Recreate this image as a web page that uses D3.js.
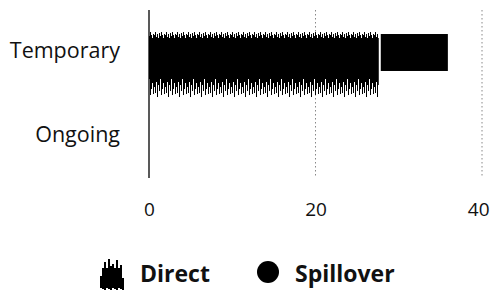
<!DOCTYPE html>
<html>
<head>
<meta charset="utf-8">
<script src="https://cdn.jsdelivr.net/npm/d3@7"></script>
<style>
body { margin: 0; background: #fff; }
svg text { font-family: "Open Sans", sans-serif; fill: #111; }
.cat text { font-size: 21.5px; }
.legend text { font-size: 23px; font-weight: 700; }
</style>
</head>
<body>
<svg id="chart" width="490" height="301"></svg>
<script>
// data
var categories = ["Temporary", "Ongoing"];
var direct = [27.6, 0];
var spillover = [8.3, 0];
var xTicks = [0, 20, 40];
var seriesNames = ["Direct", "Spillover"];

var svg = d3.select("#chart");

var x = d3.scaleLinear().domain([0, 40]).range([149, 482]);
var y = d3.scaleBand().domain(categories).range([10, 178])
  .paddingInner(0.548).paddingOuter(0.274);

// fuzzy texture for the Direct series (scanned look)
var spikesTop = [3, 0, 5, 2, 6, 1, 4, 0, 3, 6, 2];
var spikesBot = [14, 20, 9, 24, 12, 18, 6, 22, 16, 10, 21];
var defs = svg.append("defs");
var pat = defs.append("pattern").attr("id", "fuzz")
  .attr("patternUnits", "userSpaceOnUse")
  .attr("x", 0).attr("y", y("Temporary") - 1)
  .attr("width", 11).attr("height", 66);
pat.append("rect").attr("x", 0).attr("y", 6).attr("width", 11).attr("height", 36).attr("fill", "#000");
spikesTop.forEach(function(d, i) {
  pat.append("line").attr("x1", i + 0.5).attr("x2", i + 0.5)
    .attr("y1", d).attr("y2", 7).attr("stroke", "#000").attr("stroke-width", 1);
});
spikesBot.forEach(function(d, i) {
  pat.append("line").attr("x1", i + 0.5).attr("x2", i + 0.5)
    .attr("y1", 41).attr("y2", 41 + d).attr("stroke", "#000").attr("stroke-width", 1);
});

// grid lines
svg.append("g").selectAll("line").data(xTicks).join("line")
  .attr("x1", d => x(d)).attr("x2", d => x(d))
  .attr("y1", 10).attr("y2", 178)
  .attr("stroke", d => d === 0 ? "#222" : "#888")
  .attr("stroke-width", d => d === 0 ? 1.5 : 1)
  .attr("stroke-dasharray", d => d === 0 ? null : "1.5,2.5");

// bars
var rows = categories.map(function(c, i) {
  return { cat: c, direct: direct[i], spill: spillover[i] };
});
svg.append("g").selectAll("rect").data(rows.filter(d => d.direct > 0)).join("rect")
  .attr("x", d => x(0)).attr("y", d => y(d.cat) - 1)
  .attr("width", d => x(d.direct) - x(0))
  .attr("height", 66)
  .attr("fill", "url(#fuzz)");
svg.append("g").selectAll("rect").data(rows.filter(d => d.spill > 0)).join("rect")
  .attr("x", d => x(d.direct) + 2).attr("y", d => y(d.cat) + 1)
  .attr("width", d => x(d.direct + d.spill) - x(d.direct) - 2)
  .attr("height", y.bandwidth() - 1)
  .attr("fill", "#000");

// category labels
svg.append("g").attr("class", "cat").selectAll("text").data(categories).join("text")
  .attr("x", 120).attr("y", d => y(d) + y.bandwidth() / 2 + 6)
  .attr("text-anchor", "end")
  .text(d => d);

// x axis labels
var xAxis = d3.axisBottom(x).tickValues(xTicks).tickSize(0).tickPadding(0);
var ax = svg.append("g").attr("class", "xax").attr("transform", "translate(0,199)").call(xAxis);
ax.select(".domain").remove();
ax.selectAll("text").attr("dy", "0.9em").style("font-family", "'Open Sans', sans-serif")
  .style("font-size", "19px").style("fill", "#111");
// last label sits at the page edge, keep it inside
ax.selectAll("text").filter(d => d === 40).attr("text-anchor", "end").attr("x", 7);

// legend
var lg = svg.append("g").attr("class", "legend");
var iconLens = [14, 22, 28, 18, 31, 24, 26, 16, 30, 20, 25, 12];
lg.selectAll("line").data(iconLens).join("line")
  .attr("x1", (d, i) => 101 + i * 2).attr("x2", (d, i) => 101 + i * 2)
  .attr("y1", d => 290 - d).attr("y2", (d, i) => 288 + (i % 3))
  .attr("stroke", "#000").attr("stroke-width", 2);
lg.append("rect").attr("x", 102).attr("y", 268).attr("width", 20).attr("height", 14).attr("fill", "#000");
lg.append("text").attr("x", 140).attr("y", 282).text(seriesNames[0]);
lg.append("circle").attr("cx", 268).attr("cy", 272).attr("r", 11).attr("fill", "#000");
lg.append("text").attr("x", 295).attr("y", 282).text(seriesNames[1]);
</script>
</body>
</html>
